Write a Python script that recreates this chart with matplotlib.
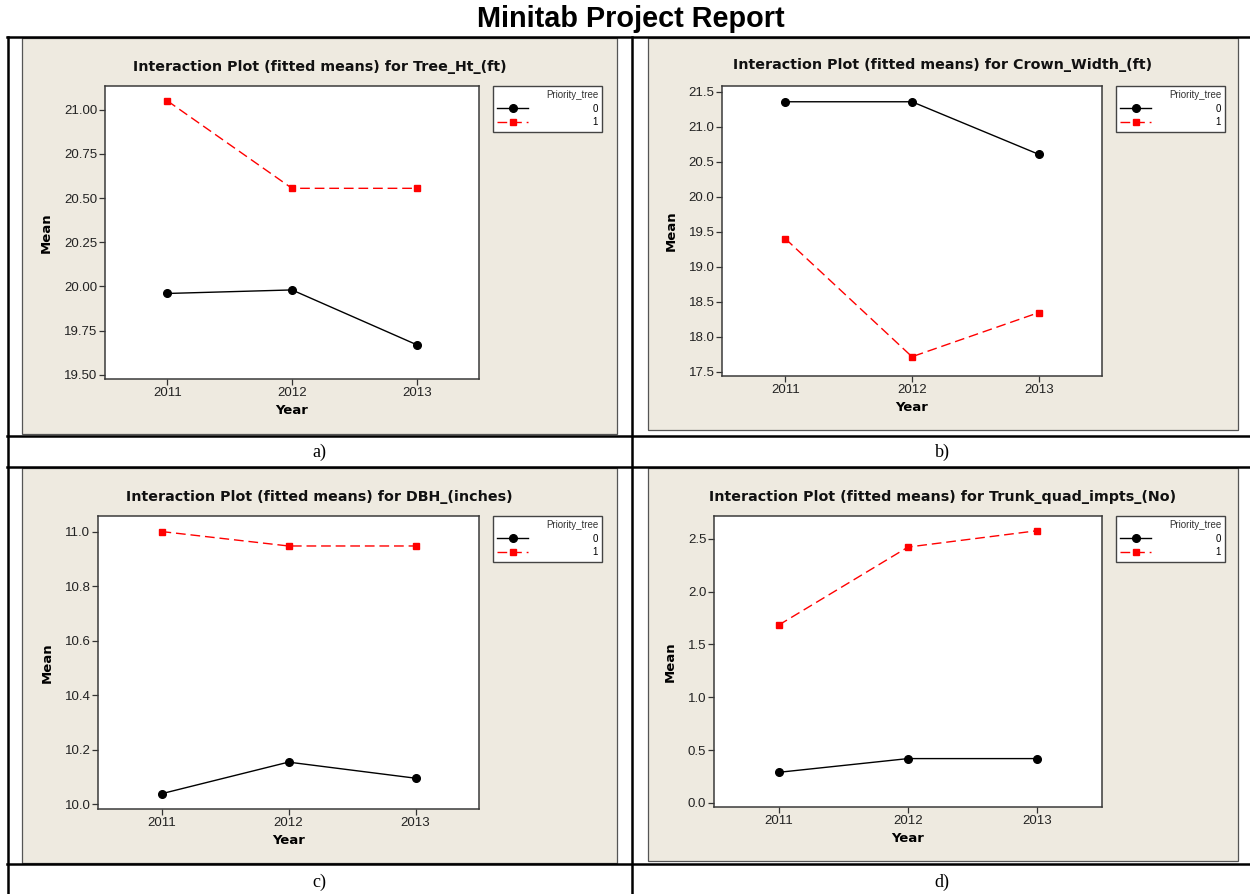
import matplotlib
matplotlib.use("Agg")
import matplotlib.pyplot as plt
from matplotlib.lines import Line2D
from matplotlib.patches import Rectangle

# page size in pixels (dpi 100)
W, H = 1250, 894

YEARS = [2011, 2012, 2013]
LEVELS = ["0", "1"]

TREE_HT_0 = [19.96, 19.98, 19.67]
TREE_HT_1 = [21.05, 20.555, 20.555]
CROWN_W_0 = [21.355, 21.355, 20.605]
CROWN_W_1 = [19.40, 17.715, 18.345]
DBH_0 = [10.038, 10.154, 10.095]
DBH_1 = [11.00, 10.947, 10.947]
TRUNK_0 = [0.29, 0.42, 0.42]
TRUNK_1 = [1.683, 2.421, 2.576]

RESPONSES = ["Tree_Ht_(ft)", "Crown_Width_(ft)", "DBH_(inches)", "Trunk_quad_impts_(No)"]
CAPTIONS = ["a)", "b)", "c)", "d)"]
Y_TICKS = [
    [19.50, 19.75, 20.00, 20.25, 20.50, 20.75, 21.00],
    [17.5, 18.0, 18.5, 19.0, 19.5, 20.0, 20.5, 21.0, 21.5],
    [10.0, 10.2, 10.4, 10.6, 10.8, 11.0],
    [0.0, 0.5, 1.0, 1.5, 2.0, 2.5],
]
Y_FMT = ["%.2f", "%.1f", "%.1f", "%.1f"]
Y_LIMS = [(19.476, 21.134), (17.44, 21.58), (9.982, 11.057), (-0.038, 2.715)]

SERIES = [(TREE_HT_0, TREE_HT_1), (CROWN_W_0, CROWN_W_1),
          (DBH_0, DBH_1), (TRUNK_0, TRUNK_1)]

# layout boxes in pixels: (left, top, right, bottom)
PANELS = [(22, 38, 617, 434), (648, 38, 1238, 430),
          (22, 468, 617, 863), (648, 468, 1238, 861)]
PLOTS = [(105, 86, 479, 379), (722, 86, 1102, 376),
         (98, 516, 479, 809), (714, 516, 1102, 807)]
TITLE_Y = [67, 65, 497, 497]
CAPTION_POS = [(319, 452), (942, 452), (319, 882), (942, 882)]

BEIGE = "#EEEAE0"
FONT = "Liberation Sans"


def fx(px):
    return px / W


def fy(py):
    return 1 - py / H


def box_rect(box):
    l, t, r, b = box
    return [fx(l), fy(b), (r - l) / W, (b - t) / H]


fig = plt.figure(figsize=(W / 100, H / 100), dpi=100)
fig.patch.set_facecolor("white")

fig.text(fx(631), fy(19), "Minitab Project Report", ha="center", va="center",
         fontsize=20.8, fontweight="bold", family=FONT)

# report table rules
rules = [((7, 1250), (37, 37)), ((7, 1250), (435.5, 435.5)), ((7, 1250), (467, 467)),
         ((7, 1250), (864, 864)), ((8, 8), (37, 894)), ((632, 632), (37, 894))]
for xs, ys in rules:
    fig.add_artist(Line2D([fx(x) for x in xs], [fy(y) for y in ys],
                          transform=fig.transFigure, color="black", lw=1.8))

for i in range(4):
    l, t, r, b = PANELS[i]
    fig.patches.append(Rectangle((fx(l), fy(b)), (r - l) / W, (b - t) / H,
                                 transform=fig.transFigure, facecolor=BEIGE,
                                 edgecolor="#555555", lw=0.9, zorder=-5))
    fig.text(fx((l + r) / 2), fy(TITLE_Y[i]),
             "Interaction Plot (fitted means) for " + RESPONSES[i],
             ha="center", va="center", fontsize=10.3, fontweight="bold",
             family="DejaVu Sans", color="#111111")
    fig.text(fx(CAPTION_POS[i][0]), fy(CAPTION_POS[i][1]), CAPTIONS[i],
             ha="center", va="center", fontsize=13, family="Liberation Serif")

    ax = fig.add_axes(box_rect(PLOTS[i]))
    ax.set_facecolor("white")
    s0, s1 = SERIES[i]
    ax.plot(YEARS, s0, color="black", lw=1.0, marker="o", ms=5.5, label=LEVELS[0])
    ax.plot(YEARS, s1, color="red", lw=1.0, ls=(0, (7, 3.5)), marker="s", ms=4.8,
            label=LEVELS[1])

    ax.set_xlim(2010.5, 2013.5)
    ax.set_ylim(*Y_LIMS[i])
    ax.set_xticks(YEARS)
    ax.set_xticklabels([str(y) for y in YEARS])
    ax.set_yticks(Y_TICKS[i])
    ax.set_yticklabels([Y_FMT[i] % v for v in Y_TICKS[i]])
    ax.tick_params(direction="out", length=4, width=0.9, color="#333333",
                   labelsize=9.5, pad=1.5, top=False, right=False)
    for lab in ax.get_xticklabels() + ax.get_yticklabels():
        lab.set_family(FONT)
        lab.set_color("#222222")
    for sp in ax.spines.values():
        sp.set_color("#3a3a3a")
        sp.set_linewidth(1.1)

    ax.set_xlabel("Year", fontsize=9.5, fontweight="bold", family="DejaVu Sans", labelpad=4)
    ax.set_ylabel("Mean", fontsize=9.5, fontweight="bold", family="DejaVu Sans", labelpad=8)

    pl, pt, pr, pb = PLOTS[i]
    leg = ax.legend(title="Priority_tree", loc="upper left",
                    bbox_to_anchor=(fx(pr + 14), fy(pt)),
                    bbox_transform=fig.transFigure, borderaxespad=0,
                    fontsize=7, title_fontsize=7, alignment="right",
                    handlelength=3.2, handletextpad=6.6, labelspacing=0.35,
                    borderpad=0.45, numpoints=1, fancybox=False, framealpha=1,
                    edgecolor="#444444", prop={"family": FONT, "size": 7})
    leg.get_frame().set_linewidth(1.0)
    leg.get_title().set_family(FONT)
    leg.get_title().set_color("#333333")

fig.savefig("out.png", dpi=100, facecolor="white")
